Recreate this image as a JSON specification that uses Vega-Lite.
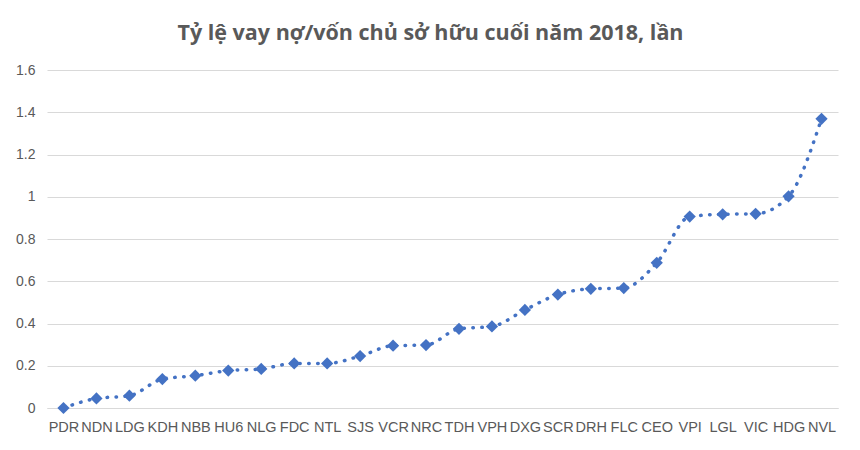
{
  "$schema": "https://vega.github.io/schema/vega-lite/v6.json",
  "autosize": {"type": "none"},
  "width": 791,
  "height": 338,
  "padding": {"left": 47, "top": 70, "right": 22, "bottom": 42},
  "background": "white",
  "title": {
    "text": "Tỷ lệ vay nợ/vốn chủ sở hữu cuối năm 2018, lần",
    "font": "Open Sans",
    "fontSize": 21.5,
    "fontWeight": "bold",
    "color": "#595959",
    "anchor": "middle",
    "dx": -12,
    "offset": 19
  },
  "data": {
    "values": [
      {"ticker": "PDR", "ratio": 0.0},
      {"ticker": "NDN", "ratio": 0.045},
      {"ticker": "LDG", "ratio": 0.058},
      {"ticker": "KDH", "ratio": 0.137},
      {"ticker": "NBB", "ratio": 0.153},
      {"ticker": "HU6", "ratio": 0.177},
      {"ticker": "NLG", "ratio": 0.185},
      {"ticker": "FDC", "ratio": 0.211},
      {"ticker": "NTL", "ratio": 0.211},
      {"ticker": "SJS", "ratio": 0.246},
      {"ticker": "VCR", "ratio": 0.295},
      {"ticker": "NRC", "ratio": 0.298},
      {"ticker": "TDH", "ratio": 0.375},
      {"ticker": "VPH", "ratio": 0.386},
      {"ticker": "DXG", "ratio": 0.464},
      {"ticker": "SCR", "ratio": 0.537},
      {"ticker": "DRH", "ratio": 0.564},
      {"ticker": "FLC", "ratio": 0.568},
      {"ticker": "CEO", "ratio": 0.687},
      {"ticker": "VPI", "ratio": 0.906},
      {"ticker": "LGL", "ratio": 0.917},
      {"ticker": "VIC", "ratio": 0.919},
      {"ticker": "HDG", "ratio": 1.002},
      {"ticker": "NVL", "ratio": 1.369}
    ]
  },
  "encoding": {
    "x": {
      "field": "ticker",
      "type": "ordinal",
      "sort": null,
      "scale": {"type": "point", "padding": 0.5},
      "axis": {
        "title": null,
        "labelAngle": 0,
        "labelOverlap": false,
        "labelFont": "Liberation Sans",
        "labelFontSize": 14.5,
        "labelColor": "#595959",
        "labelPadding": 12,
        "ticks": false,
        "domainColor": "#D9D9D9",
        "grid": false
      }
    },
    "y": {
      "field": "ratio",
      "type": "quantitative",
      "scale": {"domain": [0, 1.6], "nice": false},
      "axis": {
        "title": null,
        "values": [0, 0.2, 0.4, 0.6, 0.8, 1, 1.2, 1.4, 1.6],
        "labelExpr": "datum.value",
        "labelFont": "Liberation Sans",
        "labelFontSize": 14,
        "labelColor": "#595959",
        "labelPadding": 12,
        "ticks": false,
        "domain": false,
        "gridColor": "#D9D9D9",
        "gridWidth": 1.2
      }
    }
  },
  "layer": [
    {
      "mark": {
        "type": "line",
        "interpolate": "monotone",
        "color": "#4472C4",
        "strokeWidth": 3.5,
        "strokeDash": [0.5, 8.5],
        "strokeCap": "round"
      }
    },
    {
      "mark": {
        "type": "point",
        "shape": "diamond",
        "filled": true,
        "size": 150,
        "color": "#4472C4",
        "opacity": 1
      }
    }
  ],
  "config": {"view": {"stroke": null}}
}
